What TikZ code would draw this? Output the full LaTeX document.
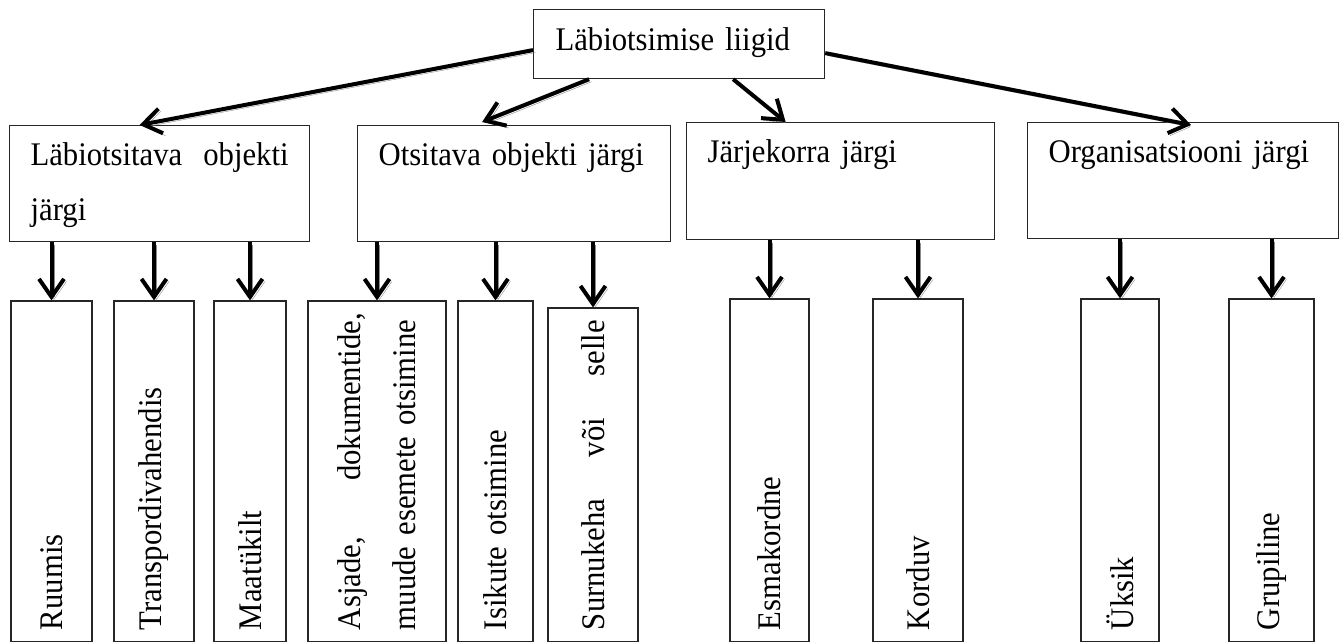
\documentclass[tikz,border=0pt]{standalone}
\usepackage{fontspec}
\setmainfont{Liberation Serif}[FakeStretch=0.93]
\usetikzlibrary{arrows.meta}
\hyphenpenalty=10000
\begin{document}
\begin{tikzpicture}[x=1pt,y=-1pt,font=\fontsize{33}{55}\selectfont,
  box/.style={draw=black!85,line width=1.2pt,anchor=north west,align=left,inner xsep=21pt,inner ysep=18pt,text height=22pt,text depth=58pt},
  col/.style={draw=black!85,line width=1.2pt,rotate=90,align=left,inner xsep=12pt},
  arr/.style={line width=4pt,-{Straight Barb[length=18pt,width=25pt]},preaction={draw=black!45,transform canvas={shift={(2.5pt,-2.5pt)}}}}]
  \useasboundingbox (0,0) rectangle (1339,641);
  \node[box,text width=247pt,inner xsep=22pt,inner ysep=19pt,text depth=9pt] (top) at (533,9) {Läbiotsimise liigid};
  \node[box,text width=258pt] (b1) at (9,125) {Läbiotsitava\hfill objekti\\järgi};
  \node[box,text width=271pt] (b2) at (357,125) {Otsitava objekti järgi};
  \node[box,text width=266pt,text depth=59pt] (b3) at (686,122) {Järjekorra järgi};
  \node[box,text width=269pt] (b4) at (1027,122) {Organisatsiooni järgi};
  \node[col,text width=317pt,minimum height=81pt] (r1) at (51.5,471.5) {Ruumis};
  \node[col,text width=317pt,minimum height=80pt] (r2) at (154,471.5) {Transpordivahendis};
  \node[col,text width=317pt,minimum height=72pt] (r3) at (250,471.5) {Maatükilt};
  \node[col,text width=317pt,minimum height=138pt] (r4) at (377,471.5) {Asjade,\hfill dokumentide,\\muude esemete otsimine};
  \node[col,text width=317pt,minimum height=75pt] (r5) at (495.5,471.5) {Isikute otsimine};
  \node[col,text width=310pt,minimum height=90pt] (r6) at (593,475) {Surnukeha\hfill või\hfill selle};
  \node[col,text width=319pt,minimum height=79pt] (r7) at (769.5,470.5) {Esmakordne};
  \node[col,text width=319pt,minimum height=90pt] (r8) at (918,470.5) {Korduv};
  \node[col,text width=319pt,minimum height=78pt] (r9) at (1120,470.5) {Üksik};
  \node[col,text width=319pt,minimum height=85pt] (r10) at (1271.5,470.5) {Grupiline};
  \draw[arr] ([yshift=-6pt]top.west) -- ([xshift=-20pt]b1.north);
  \draw[arr] ([xshift=-90pt]top.south) -- ([xshift=-32pt,yshift=3pt]b2.north);
  \draw[arr] ([xshift=54pt]top.south) -- ([xshift=-55pt]b3.north);
  \draw[arr] ([yshift=-9pt]top.east) -- ([xshift=8pt,yshift=-3pt]b4.north);
  \draw[arr] (r1.east |- b1.south) -- (r1.east);
  \draw[arr] (r2.east |- b1.south) -- (r2.east);
  \draw[arr] (r3.east |- b1.south) -- (r3.east);
  \draw[arr] (r4.east |- b2.south) -- (r4.east);
  \draw[arr] (r5.east |- b2.south) -- (r5.east);
  \draw[arr] (r6.east |- b2.south) -- (r6.east);
  \draw[arr] (r7.east |- b3.south) -- (r7.east);
  \draw[arr] (r8.east |- b3.south) -- (r8.east);
  \draw[arr] (r9.east |- b4.south) -- (r9.east);
  \draw[arr] (r10.east |- b4.south) -- (r10.east);
\end{tikzpicture}
\end{document}
